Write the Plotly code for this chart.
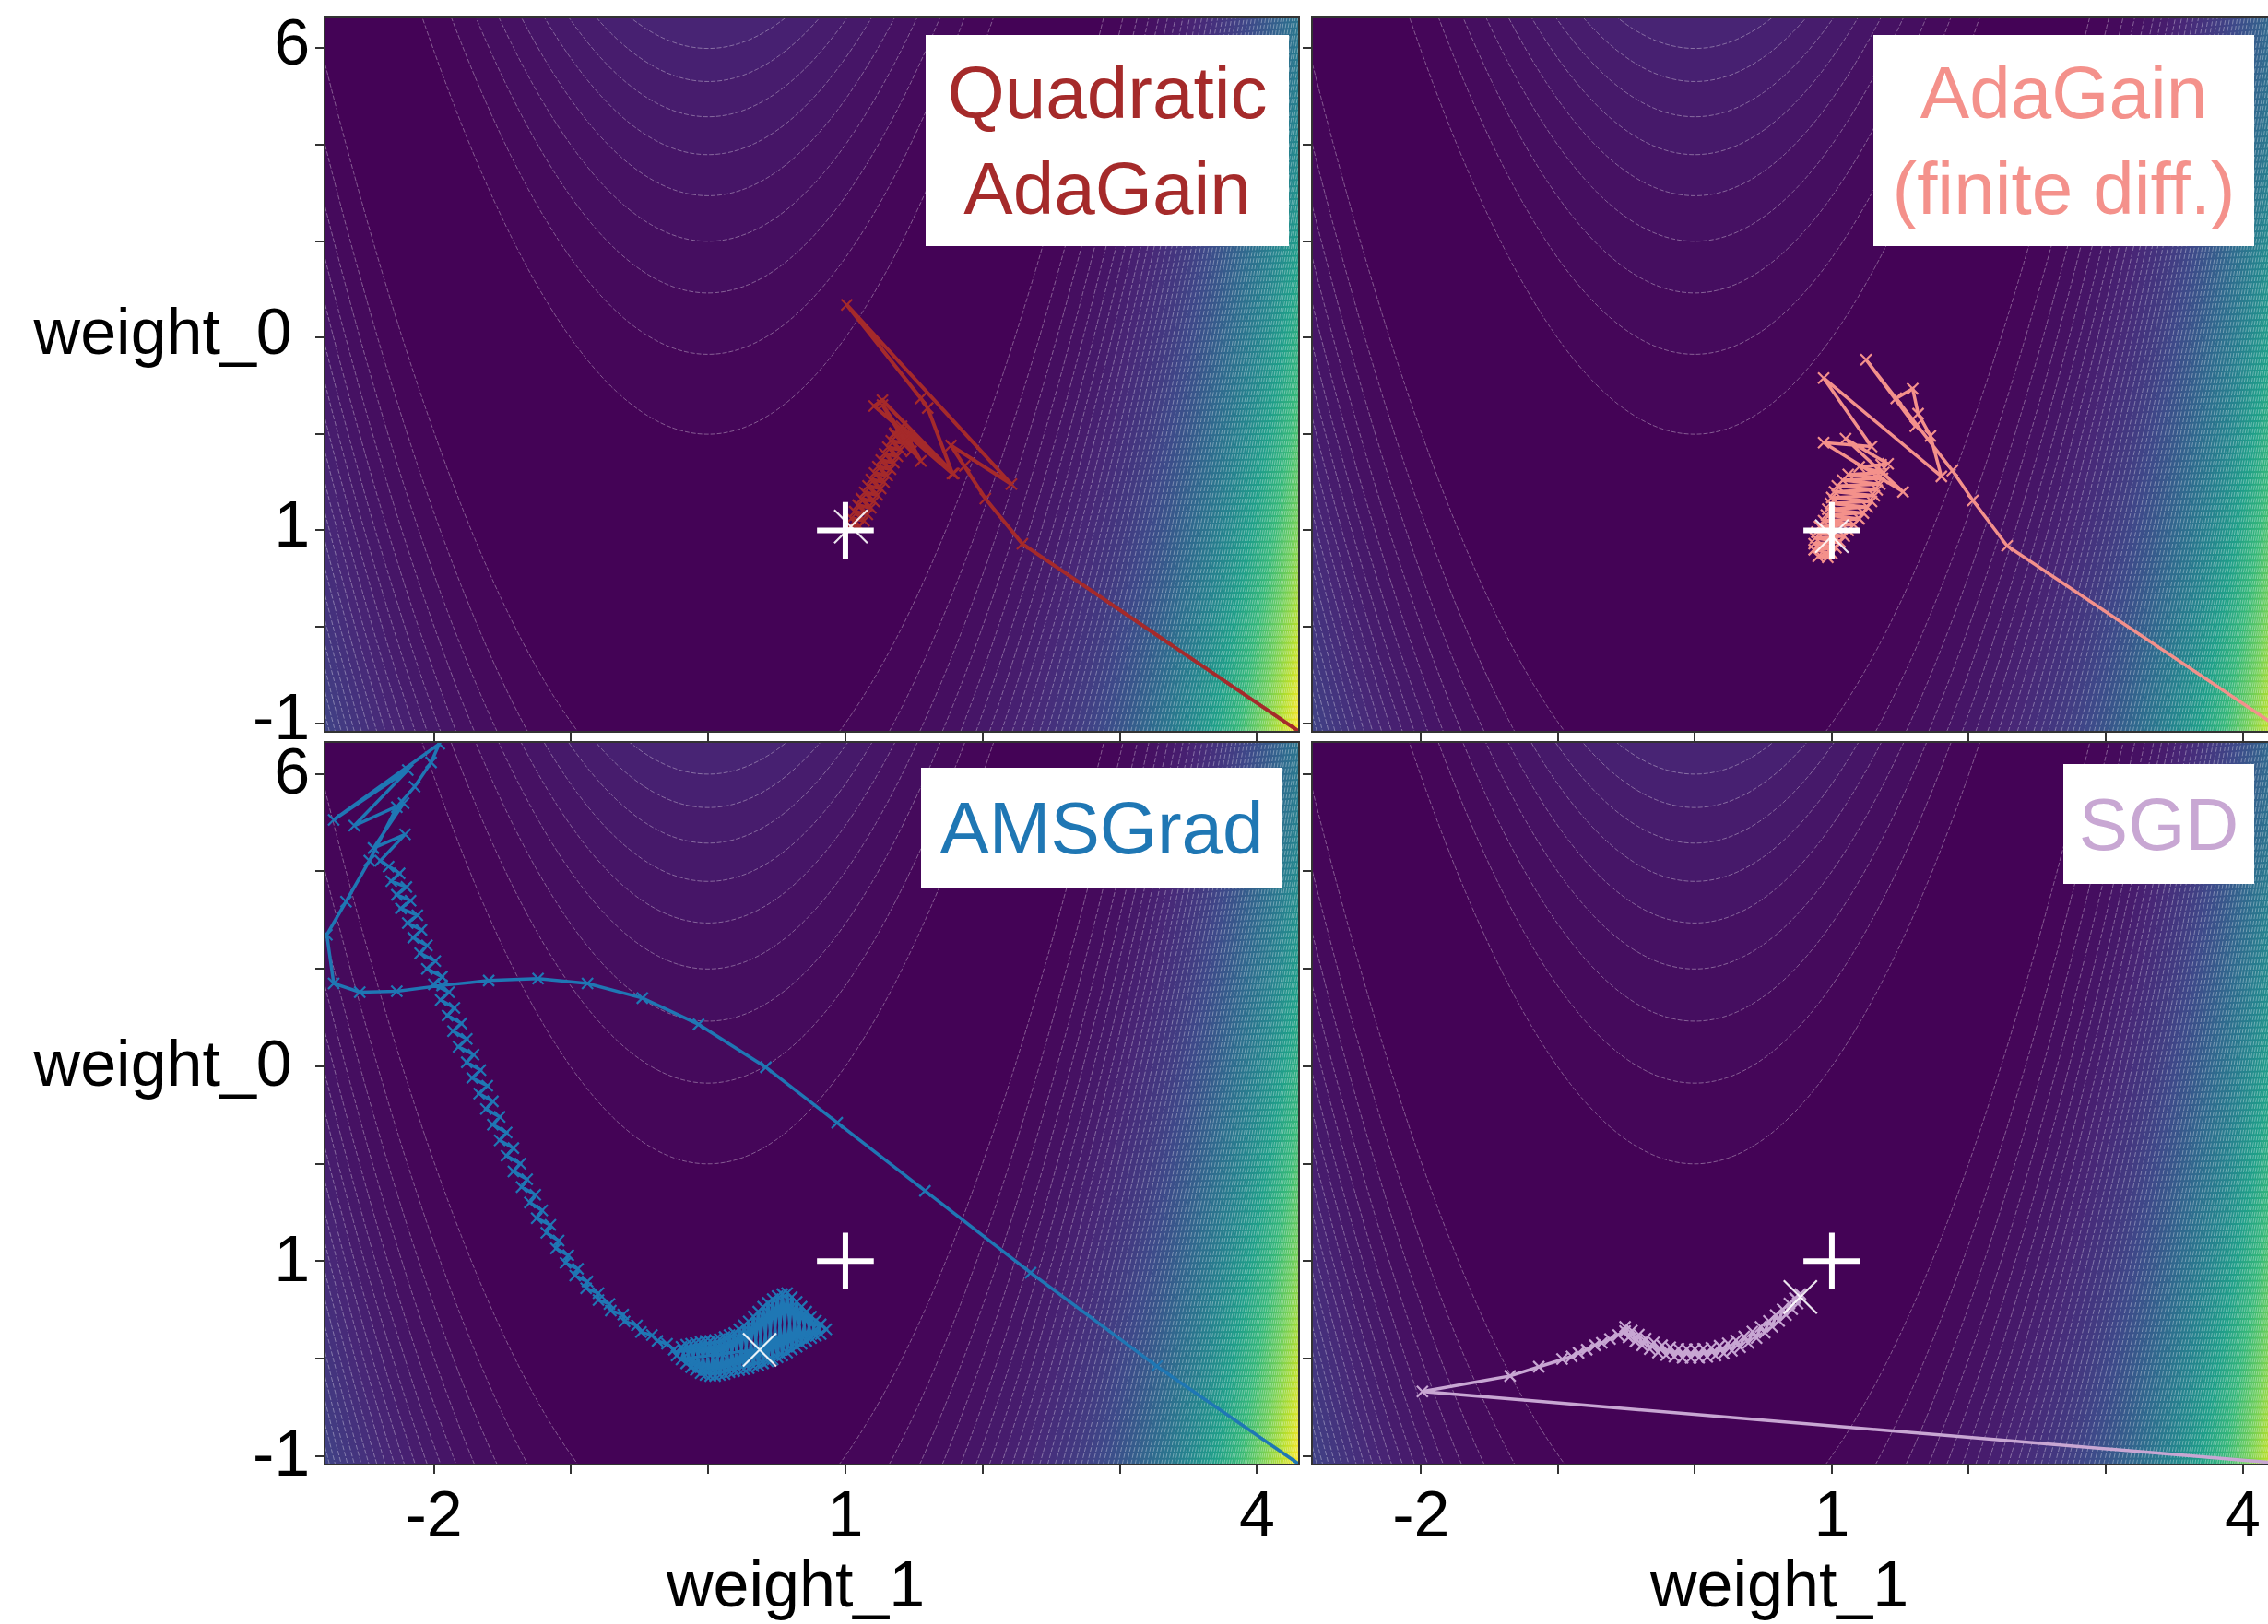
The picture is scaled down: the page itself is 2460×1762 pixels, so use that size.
import numpy as np
import plotly.graph_objects as go

# ---------------- data ----------------
# grid of the two weights on which the objective surface is evaluated
grid_w1 = np.linspace(-2.85, 4.40, 360)
grid_w0 = np.linspace(-1.15, 6.40, 320)
# Rosenbrock objective (a=1, b=100): the surface the optimisers minimise
ROSEN_A, ROSEN_B = 1.0, 100.0
contour_start, contour_end, contour_step = 0, 38400, 400

x_tick_vals = [-2, -1, 0, 1, 2, 3, 4]
x_tick_text = ["-2", "", "", "1", "", "", "4"]
y_tick_vals = [-1, 0, 1, 2, 3, 4, 5, 6]
y_tick_text = ["-1", "", "1", "", "weight_0\u00a0", "", "", "6"]
x_title = "weight_1"

optimum_w1 = [1.0]
optimum_w0 = [1.0]

# trajectories: (weight_1, weight_0)
quad_path = [
    (4.30, -1.08), (2.29, 0.86), (2.02, 1.33), (1.87, 1.67), (1.77, 1.88),
    (2.21, 1.48), (1.01, 3.34), (1.55, 2.37), (1.60, 2.27), (1.78, 1.59),
    (1.21, 2.29), (1.27, 2.35), (1.79, 1.59), (1.41, 2.08), (1.55, 1.72),
    (1.27, 2.30), (1.48, 1.82), (1.37, 1.98), (1.41, 2.03), (1.36, 2.01),
    (1.45, 1.97), (1.358, 1.997), (1.426, 1.903), (1.334, 1.93), (1.402, 1.836),
    (1.31, 1.863), (1.378, 1.769), (1.286, 1.796), (1.353, 1.702), (1.261, 1.729),
    (1.329, 1.636), (1.237, 1.662), (1.305, 1.569), (1.213, 1.595), (1.281, 1.502),
    (1.189, 1.528), (1.257, 1.435), (1.165, 1.461), (1.233, 1.368), (1.141, 1.394),
    (1.209, 1.301), (1.117, 1.328), (1.185, 1.234), (1.092, 1.261), (1.16, 1.167),
    (1.068, 1.194), (1.136, 1.10), (1.044, 1.127), (1.102, 1.043), (1.035, 1.05),
    (1.04, 1.04),
]
quad_final = (1.04, 1.04)

fd_path = [
    (4.30, -1.08), (2.28, 0.84), (2.03, 1.31), (1.88, 1.62), (1.25, 2.77),
    (1.61, 2.08), (1.47, 2.37), (1.59, 2.47), (1.63, 2.21), (1.72, 1.98),
    (1.80, 1.56), (0.94, 2.58), (1.29, 1.87), (0.94, 1.91), (1.52, 1.40),
    (1.10, 1.95), (1.41, 1.69),
    (1.36, 1.68), (1.20, 1.66), (1.38, 1.60), (1.12, 1.58), (1.37, 1.54),
    (1.08, 1.52), (1.35, 1.48), (1.04, 1.46), (1.33, 1.42), (1.02, 1.40),
    (1.31, 1.36), (1.00, 1.34), (1.29, 1.30), (0.99, 1.28), (1.26, 1.24),
    (0.97, 1.22), (1.23, 1.18), (0.96, 1.16), (1.20, 1.12), (0.94, 1.10),
    (1.16, 1.06), (0.91, 1.04), (1.12, 1.00), (0.89, 0.98), (1.09, 0.94),
    (0.88, 0.92), (1.06, 0.88), (0.87, 0.86), (1.03, 0.82), (0.87, 0.80),
    (1.00, 0.76), (0.90, 0.73), (0.97, 0.72), (1.00, 0.94),
]
fd_final = (1.00, 0.94)

ams_path = [
    (4.30, -1.08), (3.27, -0.08), (2.35, 0.88), (1.58, 1.72), (0.94, 2.42),
    (0.42, 2.99), (-0.07, 3.43), (-0.48, 3.70), (-0.88, 3.85), (-1.24, 3.90),
    (-1.60, 3.88), (-1.94, 3.83), (-2.27, 3.77), (-2.54, 3.76), (-2.73, 3.85),
    (-2.78, 4.35), (-2.64, 4.69), (-2.47, 5.11), (-2.27, 5.66), (-2.14, 5.87),
    (-2.02, 6.12), (-1.96, 6.31), (-2.73, 5.53), (-2.19, 6.04), (-2.58, 5.47),
    (-2.22, 5.70), (-2.44, 5.24), (-2.21, 5.38), (-2.39, 5.11),
    (-2.33, 5.05), (-2.25, 4.98), (-2.31, 4.90), (-2.20, 4.84), (-2.27, 4.76),
    (-2.17, 4.70), (-2.24, 4.62), (-2.12, 4.55), (-2.19, 4.47), (-2.09, 4.40),
    (-2.15, 4.32), (-2.05, 4.24), (-2.10, 4.16), (-1.99, 4.08), (-2.05, 4.00),
    (-1.94, 3.92), (-2.00, 3.84), (-1.89, 3.76), (-1.95, 3.68), (-1.85, 3.60),
    (-1.90, 3.52), (-1.80, 3.44), (-1.86, 3.36), (-1.76, 3.28), (-1.82, 3.20),
    (-1.71, 3.12), (-1.76, 3.04), (-1.66, 2.96), (-1.72, 2.88), (-1.61, 2.80),
    (-1.67, 2.72), (-1.57, 2.64), (-1.62, 2.56), (-1.52, 2.48), (-1.57, 2.40),
    (-1.47, 2.32), (-1.52, 2.24), (-1.42, 2.16), (-1.47, 2.08), (-1.37, 2.00),
    (-1.42, 1.92), (-1.32, 1.84), (-1.36, 1.76), (-1.26, 1.68), (-1.30, 1.60),
    (-1.21, 1.52), (-1.25, 1.44), (-1.15, 1.37), (-1.18, 1.29), (-1.09, 1.21),
    (-1.11, 1.13), (-1.02, 1.06), (-1.04, 0.98), (-0.95, 0.92), (-0.97, 0.85),
    (-0.88, 0.79), (-0.89, 0.72), (-0.80, 0.67), (-0.80, 0.60), (-0.72, 0.56),
    (-0.71, 0.49), (-0.62, 0.45), (-0.61, 0.38), (-0.52, 0.34), (-0.49, 0.27),
    (-0.41, 0.24), (-0.37, 0.18), (-0.30, 0.15), (-0.25, 0.09),
    (-0.23, 0.03), (-0.195, 0.12), (-0.16, -0.05), (-0.125, 0.15), (-0.09, -0.12),
    (-0.055, 0.17), (-0.02, -0.17), (0.015, 0.18), (0.05, -0.18), (0.085, 0.20),
    (0.12, -0.16), (0.155, 0.24), (0.19, -0.13), (0.225, 0.30), (0.26, -0.11),
    (0.295, 0.38), (0.33, -0.08), (0.365, 0.48), (0.40, -0.05), (0.435, 0.57),
    (0.47, -0.01), (0.505, 0.64), (0.54, 0.03), (0.575, 0.67), (0.61, 0.09),
    (0.645, 0.58), (0.68, 0.15), (0.715, 0.48), (0.75, 0.21), (0.785, 0.39),
    (0.82, 0.25), (0.86, 0.30), (0.82, 0.35), (0.785, 0.23), (0.75, 0.43),
    (0.715, 0.18), (0.68, 0.53), (0.645, 0.12), (0.61, 0.63), (0.575, 0.06),
    (0.54, 0.66), (0.505, 0.01), (0.47, 0.61), (0.435, -0.03), (0.40, 0.53),
    (0.365, -0.07), (0.33, 0.43), (0.295, -0.10), (0.26, 0.34), (0.225, -0.12),
    (0.19, 0.26), (0.155, -0.14), (0.12, 0.22), (0.085, -0.17), (0.05, 0.19),
    (0.015, -0.18), (-0.02, 0.18), (-0.055, -0.15), (-0.09, 0.16), (-0.125, -0.09),
    (-0.16, 0.14), (-0.195, -0.01), (0.10, 0.05), (0.375, 0.088),
]
ams_final = (0.375, 0.088)

sgd_path = [
    (4.30, -1.08), (-1.99, -0.34), (-1.35, -0.18), (-1.14, -0.085), (-0.97, -0.006),
    (-0.90, 0.02), (-0.85, 0.057), (-0.79, 0.09), (-0.73, 0.135), (-0.68, 0.16),
    (-0.62, 0.20), (-0.56, 0.24), (-0.51, 0.28),
    (-0.51, 0.325), (-0.485, 0.215), (-0.46, 0.285), (-0.435, 0.175), (-0.41, 0.245),
    (-0.385, 0.135), (-0.36, 0.205), (-0.33, 0.095), (-0.30, 0.165), (-0.27, 0.06),
    (-0.24, 0.135), (-0.21, 0.035), (-0.18, 0.115), (-0.15, 0.017), (-0.12, 0.10),
    (-0.09, 0.007), (-0.06, 0.095), (-0.03, 0.005), (0.00, 0.095), (0.03, 0.007),
    (0.06, 0.10), (0.09, 0.015), (0.12, 0.11), (0.15, 0.03), (0.18, 0.13),
    (0.21, 0.052), (0.24, 0.155), (0.27, 0.08), (0.30, 0.185), (0.33, 0.115),
    (0.36, 0.225), (0.39, 0.16), (0.42, 0.275), (0.45, 0.21), (0.48, 0.325),
    (0.51, 0.265), (0.54, 0.385), (0.565, 0.325), (0.59, 0.445), (0.615, 0.385),
    (0.64, 0.505), (0.665, 0.445), (0.69, 0.565), (0.71, 0.505), (0.73, 0.62),
    (0.75, 0.565), (0.77, 0.66),
]
sgd_final = (0.77, 0.63)

labels = ["Quadratic<br>AdaGain", "AdaGain<br>(finite diff.)", "AMSGrad", "SGD"]
colors = ["#A52A2A", "#F4918B", "#1F77B4", "#C8A7D3"]
line_widths = [4, 3.5, 3.5, 3.5]

# ---------------- figure ----------------
W, H = 2460, 1762
FONT = "Liberation Sans, Arial, Helvetica, sans-serif"

G1, G0 = np.meshgrid(grid_w1, grid_w0)
surface = (ROSEN_A - G1) ** 2 + ROSEN_B * (G0 - G1 ** 2) ** 2

fig = go.Figure()

panels = [
    dict(path=quad_path, final=quad_final, xa="x", ya="y"),
    dict(path=fd_path, final=fd_final, xa="x2", ya="y2"),
    dict(path=ams_path, final=ams_final, xa="x3", ya="y3"),
    dict(path=sgd_path, final=sgd_final, xa="x4", ya="y4"),
]

for i, p in enumerate(panels):
    fig.add_trace(go.Contour(
        x=grid_w1, y=grid_w0, z=surface, xaxis=p["xa"], yaxis=p["ya"],
        colorscale="Viridis", zmin=contour_start, zmax=contour_end, zauto=False,
        contours=dict(start=contour_start, end=contour_end, size=contour_step, coloring="fill"),
        line=dict(color="rgba(255,255,255,0.45)", width=0.8, dash="5px,2px"),
        showscale=False, hoverinfo="skip",
    ))
    pw1 = [pt[0] for pt in p["path"]]
    pw0 = [pt[1] for pt in p["path"]]
    fig.add_trace(go.Scatter(
        x=pw1, y=pw0, xaxis=p["xa"], yaxis=p["ya"], mode="lines+markers",
        line=dict(color=colors[i], width=line_widths[i]),
        marker=dict(symbol="x-thin", size=12, color=colors[i],
                    line=dict(width=2.2, color=colors[i])),
        showlegend=False, hoverinfo="skip",
    ))
    fig.add_trace(go.Scatter(
        x=optimum_w1, y=optimum_w0, xaxis=p["xa"], yaxis=p["ya"], mode="markers",
        marker=dict(symbol="cross-thin", size=44, color="white",
                    line=dict(width=6, color="white")),
        showlegend=False, hoverinfo="skip",
    ))
    fig.add_trace(go.Scatter(
        x=[p["final"][0]], y=[p["final"][1]], xaxis=p["xa"], yaxis=p["ya"], mode="markers",
        marker=dict(symbol="x-thin", size=36, color="white",
                    line=dict(width=2.2, color="rgba(255,255,255,0.9)")),
        showlegend=False, hoverinfo="skip",
    ))

left_dom = [353 / W, 1408 / W]
right_dom = [1424 / W, 1.0]
top_dom = [1 - 793 / H, 1 - 19 / H]
bot_dom = [1 - 1588 / H, 1 - 806 / H]
left_range = [-2.79, 4.30]
right_range = [-2.79, 4.185]
y_range = [-1.08, 6.32]

axis_common = dict(
    showgrid=False, zeroline=False, showline=True, linecolor="#333333", linewidth=1.5,
    ticks="outside", ticklen=9, tickwidth=1.5, tickcolor="#333333", automargin=False,
    tickfont=dict(size=70, color="black", family=FONT), fixedrange=True,
)

def xax(dom, rng, anchor, labelled, mirror=True):
    d = dict(axis_common)
    d.update(domain=dom, range=rng, anchor=anchor, tickmode="array",
             tickvals=x_tick_vals,
             ticktext=x_tick_text if labelled else [""] * len(x_tick_vals),
             mirror=mirror, ticklabelstandoff=-16)
    return d

def yax(dom, anchor, labelled, shift, mirror=True):
    d = dict(axis_common)
    d.update(domain=dom, range=y_range, anchor=anchor, tickmode="array",
             tickvals=y_tick_vals,
             ticktext=y_tick_text if labelled else [""] * len(y_tick_vals),
             mirror=mirror, ticklabelstandoff=-8, ticklabelshift=shift)
    return d

fig.update_layout(
    width=W, height=H, margin=dict(l=0, r=0, t=0, b=0),
    paper_bgcolor="white", plot_bgcolor="white", showlegend=False,
    font=dict(family=FONT, color="black"),
    xaxis=xax(left_dom, left_range, "y", False),
    yaxis=yax(top_dom, "x", True, -7),
    xaxis2=xax(right_dom, right_range, "y2", False),
    yaxis2=yax(top_dom, "x2", False, -7, mirror=False),
    xaxis3=xax(left_dom, left_range, "y3", True),
    yaxis3=yax(bot_dom, "x3", True, -3),
    xaxis4=xax(right_dom, right_range, "y4", True),
    yaxis4=yax(bot_dom, "x4", False, -3, mirror=False),
)

# x-axis titles under the bottom panels
for cx in (862, 1929):
    fig.add_annotation(
        xref="paper", yref="paper", x=cx / W, y=1 - 1719 / H,
        xanchor="center", yanchor="middle", showarrow=False,
        text=x_title, font=dict(size=70, color="black", family=FONT),
    )

# label boxes (right edge, top edge, width, height in px)
boxes = [
    (1398, 38, 394, 229),
    (2445, 38, 413, 229),
    (1391, 833, 392, 130),
    (2445, 829, 207, 130),
]
for i, (rx, ty, bw, bh) in enumerate(boxes):
    fig.add_annotation(
        xref="paper", yref="paper", x=rx / W, y=1 - ty / H,
        xanchor="right", yanchor="top", showarrow=False,
        text=labels[i], align="center", valign="middle",
        width=bw, height=bh, borderpad=0, borderwidth=0,
        bgcolor="white", font=dict(size=80, color=colors[i], family=FONT),
    )

fig.write_html("out.html")
